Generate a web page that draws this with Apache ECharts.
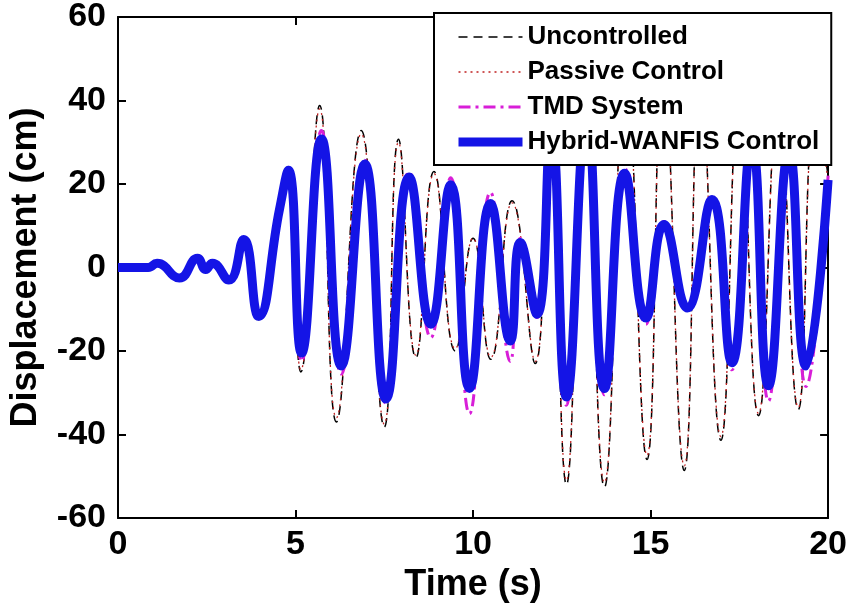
<!DOCTYPE html>
<html>
<head>
<meta charset="utf-8">
<script src="https://cdn.jsdelivr.net/npm/echarts@6/dist/echarts.min.js"></script>
<style>
html,body{margin:0;padding:0;background:#fff;}
#chart{width:850px;height:613px;}
</style>
</head>
<body>
<div id="chart"></div>
<script>
// time of each turning point (s) and displacement (cm)
var hybridT = [0, 0.85, 1.1, 1.73, 2.24, 2.47, 2.66, 3.12, 3.54, 3.96,
    4.55, 4.8, 5.17, 5.73, 6.29, 6.95, 7.55, 8.2, 8.81, 9.37,
    9.9, 10.49, 11.05, 11.33, 11.8, 12.2, 12.63, 13.2, 13.7, 14.27,
    14.87, 15.38, 16.03, 16.73, 17.29, 17.85, 18.32, 18.9, 19.38, 20]
var hybridV = [0, 0, 1, -2.5, 2.2, -0.5, 1, -3, 6.7, -11.7,
    14, 23.3, -20.5, 30.8, -23.6, 24.8, -31.5, 21.7, -13.6, 19.8,
    -29, 15.3, -17.6, 6, -11.2, 33, -31, 36, -29, 22.6,
    -12.1, 10.3, -9.7, 16.3, -22.8, 30, -28.3, 28, -23.6, 21]
var tmdV = [0, 0, 1, -2.5, 2.2, -0.5, 1, -3, 6.8, -12,
    14.5, 24, -22.5, 32.8, -25.5, 25.7, -32.6, 22.9, -16.8, 21.5,
    -35, 18, -22.5, 7, -12, 35, -33, 38, -30.5, 23.8,
    -13.6, 11, -10.3, 16.8, -24.5, 31, -32, 29.5, -28.5, 22]

var uncT = [0, 0.85, 1.1, 1.73, 2.24, 2.47, 2.66, 3.12, 3.54, 3.96,
    4.55, 4.78, 5.15, 5.68, 6.15, 6.85, 7.5, 7.9, 8.39, 8.9,
    9.5, 10.0, 10.5, 11.1, 11.75, 12.15, 12.63, 13.15, 13.7, 14.3,
    14.9, 15.35, 15.95, 16.4, 16.98, 17.5, 18.04, 18.6, 19.16, 19.65, 20]
var uncV = [0, 0, 1, -2.5, 2.2, -0.5, 1, -3, 6.8, -12.5,
    14.5, 24, -25, 38.8, -37, 32.8, -38.2, 30.7, -21.6, 23,
    -20, 7, -22, 16, -23, 42, -52, 50, -52.6, 46,
    -46, 48, -48.6, 46, -41.4, 42, -35.5, 40, -34, 38, 22]
var passV = [0, 0, 1, -2.5, 2.2, -0.5, 1, -3, 6.8, -12.3,
    14.5, 24, -24.5, 38, -36, 32, -37.5, 30, -21, 22.5,
    -19.5, 7, -21.5, 15.5, -22.5, 41, -51, 49, -51.5, 45,
    -45, 47, -47.5, 45, -40.5, 41, -35, 39, -33.5, 37, 21]

var xTicks = [0, 20, 5]      // min, max, step
var yTicks = [-60, 60, 20]

function pairs(t, v) {
    var out = []
    for (var i = 0; i < t.length; i++) out.push([t[i], v[i]])
    return out
}

var font = 'Liberation Sans, Arial, sans-serif'
var chart = echarts.init(document.getElementById('chart'), null, {renderer: 'canvas'})

var axisLine = {onZero: false, lineStyle: {color: '#000', width: 2}}
var tick = {inside: true, length: 8, lineStyle: {color: '#000', width: 2}}

var option = {
    animation: false,
    backgroundColor: '#fff',
    grid: {left: 115, right: 20, top: 14, bottom: 95},
    legend: {
        orient: 'vertical',
        left: 434,
        top: 13,
        padding: [11, 12, 10, 20],
        itemWidth: 64,
        itemHeight: 26,
        itemGap: 9,
        backgroundColor: '#fff',
        borderColor: '#000',
        borderWidth: 2,
        borderRadius: 0,
        selectedMode: false,
        itemStyle: {opacity: 0},
        lineStyle: {width: 'inherit'},
        textStyle: {fontFamily: font, fontSize: 26, fontWeight: 'bold', color: '#000'},
        data: ['Uncontrolled', 'Passive Control', 'TMD System', 'Hybrid-WANFIS Control']
    },
    xAxis: [{
        type: 'value', min: xTicks[0], max: xTicks[1], interval: xTicks[2],
        name: 'Time (s)', nameLocation: 'middle', nameGap: 46,
        nameTextStyle: {fontFamily: font, fontSize: 36, fontWeight: 'bold', color: '#000'},
        axisLine: axisLine, axisTick: tick, splitLine: {show: false},
        axisLabel: {margin: 10, fontFamily: font, fontSize: 34, fontWeight: 'bold', color: '#000'}
    }, {
        type: 'value', position: 'top', min: xTicks[0], max: xTicks[1], interval: xTicks[2],
        axisLine: axisLine, axisTick: tick, splitLine: {show: false}, axisLabel: {show: false}
    }],
    yAxis: [{
        type: 'value', min: yTicks[0], max: yTicks[1], interval: yTicks[2],
        name: 'Displacement (cm)', nameLocation: 'middle', nameGap: 74,
        nameTextStyle: {fontFamily: font, fontSize: 36, fontWeight: 'bold', color: '#000'},
        axisLine: axisLine, axisTick: tick, splitLine: {show: false},
        axisLabel: {margin: 12, fontFamily: font, fontSize: 34, fontWeight: 'bold', color: '#000'}
    }, {
        type: 'value', position: 'right', min: yTicks[0], max: yTicks[1], interval: yTicks[2],
        axisLine: axisLine, axisTick: tick, splitLine: {show: false}, axisLabel: {show: false}
    }],
    series: [
        {
            name: 'Uncontrolled', type: 'line', symbol: 'none', smooth: 0.5,
            data: pairs(uncT, uncV),
            lineStyle: {color: '#000', width: 1.5, type: [9, 6]},
            itemStyle: {color: '#000'}
        },
        {
            name: 'Passive Control', type: 'line', symbol: 'none', smooth: 0.5,
            data: pairs(uncT, passV),
            lineStyle: {color: '#c02020', width: 1.3, type: [2, 4]},
            itemStyle: {color: '#c02020'}
        },
        {
            name: 'TMD System', type: 'line', symbol: 'none', smooth: 0.5,
            data: pairs(hybridT, tmdV),
            lineStyle: {color: '#d81ed8', width: 3, type: [12, 5, 3, 5]},
            itemStyle: {color: '#d81ed8'}
        },
        {
            name: 'Hybrid-WANFIS Control', type: 'line', symbol: 'none', smooth: 0.5,
            data: pairs(hybridT, hybridV),
            lineStyle: {color: '#1414e6', width: 9},
            itemStyle: {color: '#1414e6'}
        }
    ]
}
chart.setOption(option)
</script>
</body>
</html>
